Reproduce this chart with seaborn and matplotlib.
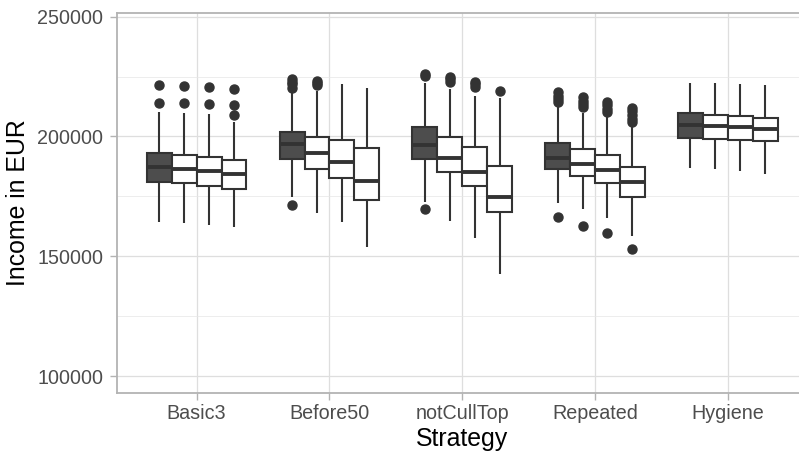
import numpy as np
import pandas as pd
import matplotlib
matplotlib.use("Agg")
import matplotlib.pyplot as plt
import seaborn as sns

# Strategies on the x axis and the four scenario runs drawn side by side
strategies = ["Basic3", "Before50", "notCullTop", "Repeated", "Hygiene"]
runs = ["Run 1", "Run 2", "Run 3", "Run 4"]

# Box summaries per strategy (rows) and run (columns), income in EUR
lower_whisker = [
    [164400, 163700, 163200, 162100],
    [174900, 167900, 164200, 153700],
    [172500, 164700, 157700, 142500],
    [172100, 169600, 165800, 158600],
    [186700, 186300, 185600, 184300],
]
lower_quartile = [
    [181100, 180400, 179400, 177900],
    [190600, 186400, 182500, 173500],
    [190500, 185000, 179400, 168300],
    [186400, 183500, 180400, 174900],
    [199500, 198900, 198500, 198100],
]
median = [
    [187400, 186500, 185700, 184200],
    [196700, 193200, 189200, 181400],
    [196400, 191000, 185300, 174900],
    [191100, 188400, 186000, 180900],
    [204800, 204400, 204100, 203100],
]
upper_quartile = [
    [193200, 192400, 191600, 190200],
    [202000, 199900, 198500, 195300],
    [204000, 199700, 195700, 187800],
    [197400, 194600, 192100, 187100],
    [209700, 209000, 208500, 207600],
]
upper_whisker = [
    [210100, 209700, 209300, 206200],
    [218700, 219000, 221900, 220100],
    [222400, 219700, 216900, 215900],
    [212400, 210000, 208200, 204000],
    [222400, 222200, 221900, 221500],
]
low_outliers = [
    [[], [], [], []],
    [[171400], [], [], []],
    [[169800], [], [], []],
    [[166200], [162700], [159600], [152900]],
    [[], [], [], []],
]
high_outliers = [
    [[221500, 214100], [221100, 213800], [220500, 213500], [219700, 213000, 209000]],
    [[223900, 222800, 221700, 220300], [223300, 222300, 221300], [], []],
    [[226000, 225300], [224800, 223800, 222700], [222800, 221800, 220800], [219000]],
    [[218400, 217000, 215600, 214300], [216500, 215000, 213500, 212200],
     [214500, 213000, 211500, 210300], [212000, 210500, 209000, 207500, 206200]],
    [[], [], [], []],
]

# Long table: each box's values repeat its quartiles so the computed
# quartiles, whiskers and outliers come out as listed above
rows = []
for i, s in enumerate(strategies):
    for j, r in enumerate(runs):
        vals = (low_outliers[i][j] + [lower_whisker[i][j]]
                + [lower_quartile[i][j]] * 10 + [median[i][j]] * 10
                + [upper_quartile[i][j]] * 10 + [upper_whisker[i][j]]
                + high_outliers[i][j])
        rows += [(s, r, v) for v in vals]
df = pd.DataFrame(rows, columns=["Strategy", "Run", "Income"])

sns.set_theme(style="whitegrid")
plt.rcParams["font.family"] = ["Liberation Sans", "DejaVu Sans"]

W, H = 799, 454
fig = plt.figure(figsize=(W / 100, H / 100), dpi=100)
left, right, top, bottom = 117, 807.4, 12.7, 393.3
ax = fig.add_axes([left / W, 1 - bottom / H, (right - left) / W, (bottom - top) / H])

line = "#333333"
palette = {"Run 1": "#4d4d4d", "Run 2": "white", "Run 3": "white", "Run 4": "white"}
sns.boxplot(
    data=df, x="Strategy", y="Income", hue="Run", order=strategies,
    hue_order=runs, palette=palette, saturation=1, width=0.75, gap=0,
    linecolor=line, linewidth=1.5, showcaps=False, legend=False,
    flierprops=dict(marker="o", markerfacecolor=line, markeredgecolor=line,
                    markersize=6.5),
    medianprops=dict(linewidth=2.8, color=line),
    ax=ax,
)

ax.set_xlim(-0.6, 4.6)
ax.set_ylim(92780, 251670)
ax.set_yticks([100000, 150000, 200000, 250000])
ax.set_yticks([125000, 175000, 225000], minor=True)

ax.set_facecolor("white")
ax.set_axisbelow(True)
ax.grid(which="major", color="#dedede", linewidth=0.9)
ax.grid(which="minor", axis="y", color="#e6e6e6", linewidth=0.5)
ax.xaxis.grid(True, which="major", color="#dedede", linewidth=0.9)
for sp in ax.spines.values():
    sp.set_visible(True)
    sp.set_color("#b3b3b3")
    sp.set_linewidth(1.3)

ax.tick_params(axis="both", which="major", length=5, width=1.0, color="#b3b3b3",
               labelsize=14.2, labelcolor="#4d4d4d", direction="out")
ax.tick_params(axis="y", which="major", pad=5, left=True)
ax.tick_params(axis="x", which="major", pad=2.5, bottom=True)
ax.tick_params(axis="y", which="minor", length=0)

ax.set_xlabel("Strategy", fontsize=17.9, color="black", labelpad=3)
ax.set_ylabel("Income in EUR", fontsize=17.9, color="black", labelpad=5)

fig.savefig("out.png", dpi=100)
